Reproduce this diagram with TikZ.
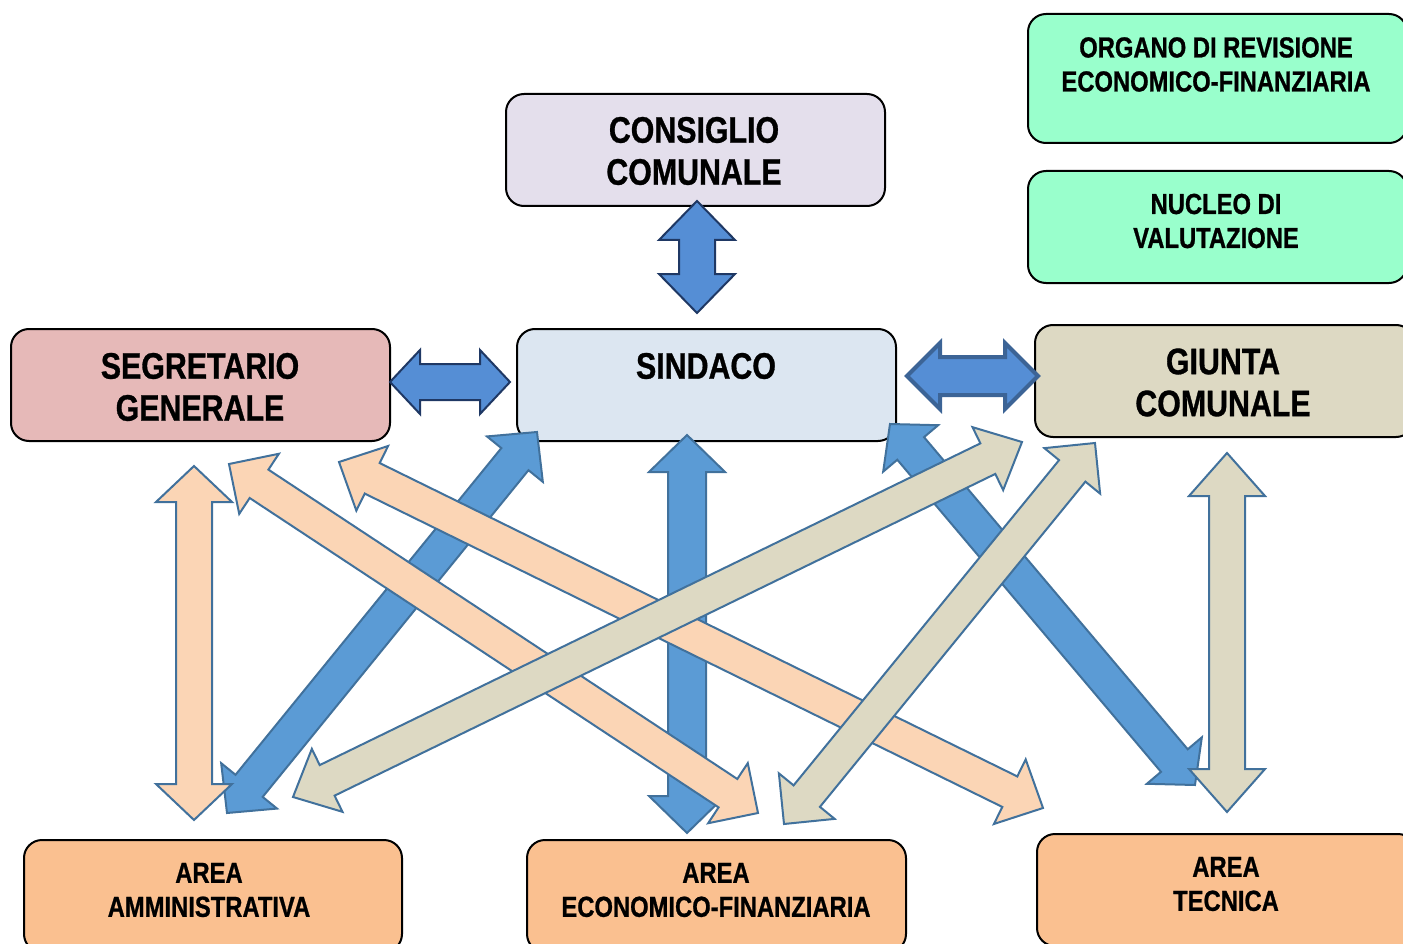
\documentclass[tikz,border=0pt]{standalone}
\usepackage{fontspec}
\newfontfamily\narrowsf[FakeStretch=0.82,BoldFeatures={FakeBold=0.8}]{Liberation Sans}
\usetikzlibrary{calc}
\definecolor{consfill}{HTML}{E4DFEC}
\definecolor{sindfill}{HTML}{DCE6F1}
\definecolor{segrfill}{HTML}{E6B9B8}
\definecolor{giunfill}{HTML}{DDD9C3}
\definecolor{greenfill}{HTML}{99FFCC}
\definecolor{areafill}{HTML}{FAC090}
\definecolor{darkarrow}{HTML}{558ED5}
\definecolor{darkline}{HTML}{1F3864}
\definecolor{midline}{HTML}{3C6496}
\definecolor{diagblue}{HTML}{5B9BD5}
\definecolor{diagline}{HTML}{41719C}
\definecolor{peach}{HTML}{FBD5B5}
\definecolor{tan}{HTML}{DDD9C3}
\newcommand{\blockarrow}[6]{%
\draw[#1] ($(#2)!#6!(#3)!#5!90:(#3)$) -- (#2) -- ($(#2)!#6!(#3)!#5!270:(#3)$) -- ($(#2)!#6!(#3)!#4!270:(#3)$) -- ($(#3)!#6!(#2)!#4!90:(#2)$) -- ($(#3)!#6!(#2)!#5!90:(#2)$) -- (#3) -- ($(#3)!#6!(#2)!#5!270:(#2)$) -- ($(#3)!#6!(#2)!#4!270:(#2)$) -- ($(#2)!#6!(#3)!#4!90:(#3)$) -- cycle;}
\tikzset{
  box/.style={draw=black, line width=2pt, rounded corners=18pt, inner sep=0pt, anchor=north west, minimum width=379pt, minimum height=112pt},
  bigtxt/.style={font=\narrowsf\bfseries\fontsize{37}{42}\selectfont, align=center, inner sep=0pt},
  smalltxt/.style={font=\narrowsf\bfseries\fontsize{29}{34}\selectfont, align=center, inner sep=0pt},
  darkarr/.style={fill=darkarrow, draw=darkline, line width=2pt, line join=miter},
  midarr/.style={fill=darkarrow, draw=midline, line width=4pt, line join=miter},
  bluearr/.style={fill=diagblue, draw=diagline, line width=2pt, line join=miter},
  peacharr/.style={fill=peach, draw=diagline, line width=2pt, line join=miter},
  tanarr/.style={fill=tan, draw=diagline, line width=2pt, line join=miter}
}
\begin{document}
\begin{tikzpicture}[x=1pt,y=-1pt]
\useasboundingbox (0,0) rectangle (1403,944);
\clip (0,0) rectangle (1403,944);
% boxes
\node[box, fill=consfill] (cons) at (505,93) {};
\node[box, fill=sindfill] (sind) at (516,328) {};
\node[box, fill=segrfill] (segr) at (10,328) {};
\node[box, fill=giunfill] (giun) at (1034,324) {};
\node[box, fill=greenfill, minimum height=129pt] (org) at (1027,13) {};
\node[box, fill=greenfill] (nuc) at (1027,170) {};
\node[box, fill=areafill, minimum width=378pt] (amm) at (23,839) {};
\node[box, fill=areafill] (eco) at (526,839) {};
\node[box, fill=areafill] (tec) at (1036,833) {};
% texts
\node[bigtxt] (consT) at (694,151) {CONSIGLIO\\COMUNALE};
\node[bigtxt] (sindT) at (706,366) {SINDACO};
\node[bigtxt] (segrT) at (200,387) {SEGRETARIO\\GENERALE};
\node[bigtxt] (giunT) at (1223,382.5) {GIUNTA\\COMUNALE};
\node[smalltxt] (orgT) at (1216,64.5) {ORGANO DI REVISIONE\\ECONOMICO-FINANZIARIA};
\node[smalltxt] (nucT) at (1216,221) {NUCLEO DI\\VALUTAZIONE};
\node[smalltxt] (ammT) at (209,890) {AREA\\AMMINISTRATIVA};
\node[smalltxt] (ecoT) at (716,890) {AREA\\ECONOMICO-FINANZIARIA};
\node[smalltxt] (tecT) at (1226,884) {AREA\\TECNICA};
% arrow tips
\coordinate (a1s) at (697,201); \coordinate (a1e) at (697,313);
\coordinate (a2s) at (390,382); \coordinate (a2e) at (510,382);
\coordinate (a3s) at (907,376); \coordinate (a3e) at (1038,376);
\coordinate (b1s) at (537,432); \coordinate (b1e) at (227,813);
\coordinate (b2s) at (687,435); \coordinate (b2e) at (687,833);
\coordinate (b3s) at (890,424); \coordinate (b3e) at (1195,785);
\coordinate (p1s) at (194,466); \coordinate (p1e) at (194,820);
\coordinate (p2s) at (229,464); \coordinate (p2e) at (758,813);
\coordinate (p3s) at (339,462); \coordinate (p3e) at (1043,808);
\coordinate (t1s) at (1227,453); \coordinate (t1e) at (1227,812);
\coordinate (t2s) at (1022,442); \coordinate (t2e) at (293,797);
\coordinate (t3s) at (1095,443); \coordinate (t3e) at (784,824);
% dark arrows
\blockarrow{darkarr}{a1s}{a1e}{18pt}{38pt}{39pt}
\blockarrow{darkarr}{a2s}{a2e}{18pt}{32pt}{30pt}
\blockarrow{midarr}{a3s}{a3e}{19pt}{33pt}{33pt}
% blue arrows
\blockarrow{bluearr}{b1s}{b1e}{17.5pt}{36pt}{35pt}
\blockarrow{bluearr}{b2s}{b2e}{19pt}{38pt}{37pt}
\blockarrow{bluearr}{b3s}{b3e}{17.5pt}{36pt}{32pt}
% peach arrows
\blockarrow{peacharr}{p1s}{p1e}{18pt}{38pt}{36pt}
\blockarrow{peacharr}{p2s}{p2e}{17pt}{36pt}{36pt}
\blockarrow{peacharr}{p3s}{p3e}{17pt}{36pt}{37pt}
% tan arrows
\blockarrow{tanarr}{t1s}{t1e}{18pt}{38pt}{43pt}
\blockarrow{tanarr}{t2s}{t2e}{17pt}{35pt}{38pt}
\blockarrow{tanarr}{t3s}{t3e}{17pt}{36pt}{36pt}
\end{tikzpicture}
\end{document}
